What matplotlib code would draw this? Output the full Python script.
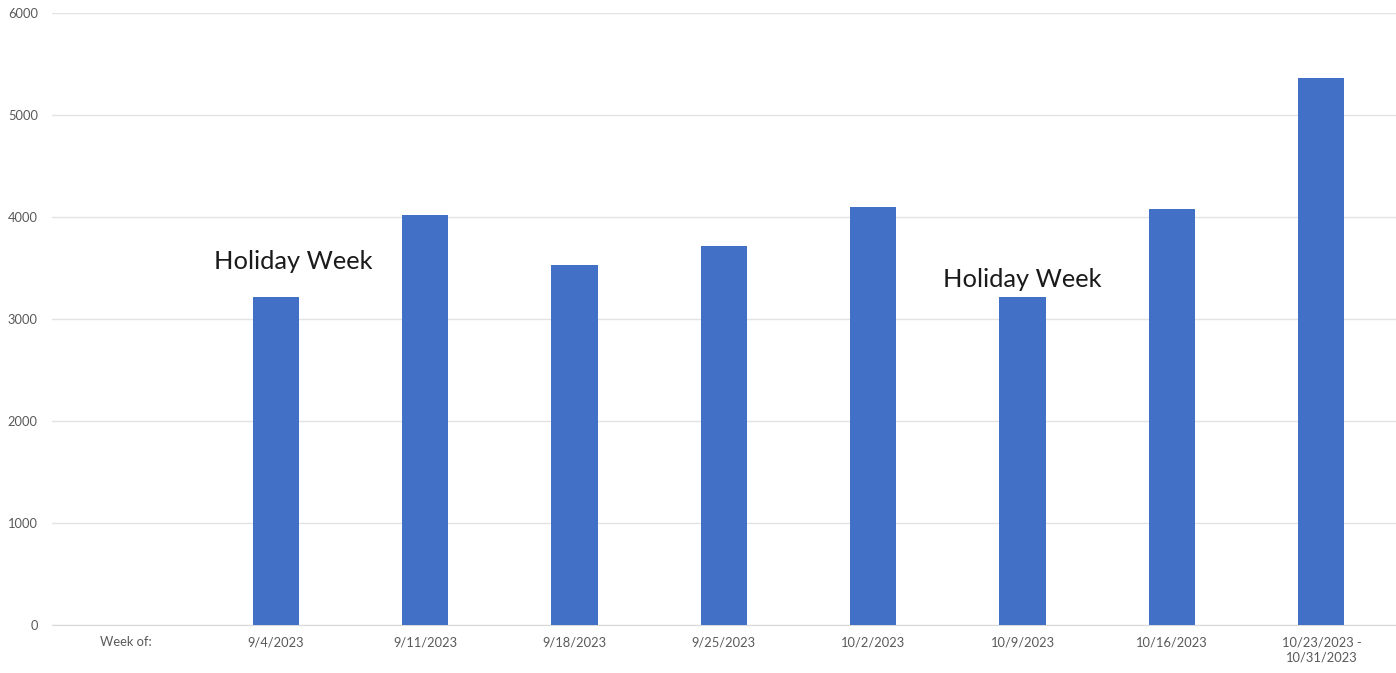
import numpy as np
import matplotlib
matplotlib.use("Agg")
import matplotlib.pyplot as plt

# Weekly totals, Sept - Oct 2023
weeks = ["Week of:", "9/4/2023", "9/11/2023", "9/18/2023", "9/25/2023",
         "10/2/2023", "10/9/2023", "10/16/2023", "10/23/2023 -\n10/31/2023"]
totals = [0, 3220, 4020, 3530, 3720, 4100, 3220, 4080, 5360]

# Notes placed over the short weeks
notes = ["Holiday Week", "Holiday Week"]
note_x = [1.12, 6.0]
note_y = [3560, 3390]

plt.rcParams['font.family'] = ['Lato', 'DejaVu Sans']

fig = plt.figure(figsize=(13.96, 6.73), dpi=100)
ax = fig.add_axes([0.037, 0.0713, 0.963, 0.9094])

x = np.arange(len(weeks))
ax.bar(x, totals, width=0.31, color='#4170C6', zorder=3)

ax.set_xlim(-0.5, len(weeks) - 0.5)
ax.set_ylim(0, 6000)
ax.set_yticks(np.arange(0, 6001, 1000))
ax.yaxis.grid(True, color='#E3E3E3', linewidth=1, zorder=0)
ax.set_xticks(x)
ax.set_xticklabels(weeks, linespacing=1.3)
ax.tick_params(axis='both', length=0, labelsize=9.3, colors='#595959')
ax.tick_params(axis='x', pad=8)
ax.tick_params(axis='y', pad=10)

for side in ['top', 'right', 'left']:
    ax.spines[side].set_visible(False)
ax.spines['bottom'].set_color('#D9D9D9')

for label, nx, ny in zip(notes, note_x, note_y):
    ax.text(nx, ny, label, ha='center', va='center', fontsize=18.3,
            color='#1a1a1a', zorder=4)

fig.savefig('out.png', dpi=100, facecolor='white')
